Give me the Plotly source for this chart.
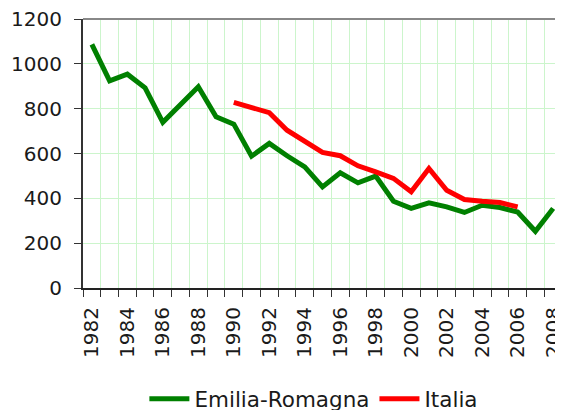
import plotly.graph_objects as go

years = list(range(1982, 2009))
emilia = [1087, 924, 954, 893, 739, 817, 898, 764, 731, 588, 645, 590, 540, 451,
          514, 469, 499, 387, 355, 380, 362, 337, 369, 359, 339, 253, 355]
italia_years = list(range(1990, 2007))
italia = [828, 806, 782, 704, 652, 605, 590, 545, 518, 489, 429, 533, 436, 395,
          387, 381, 362]
tick_years = list(range(1982, 2009, 2))
y_ticks = [0, 200, 400, 600, 800, 1000, 1200]

font_family = "DejaVu Sans, Verdana, sans-serif"

fig = go.Figure()
fig.add_trace(go.Scatter(x=years, y=emilia, mode="lines", name="Emilia-Romagna",
                         line=dict(color="#008000", width=5)))
fig.add_trace(go.Scatter(x=italia_years, y=italia, mode="lines", name="Italia",
                         line=dict(color="#ff0000", width=5)))

# page body has an 8px default margin: figure is sized/offset to compensate
fig.update_layout(
    width=555, height=402,
    margin=dict(l=75, r=1, t=11, b=122, autoexpand=False),
    plot_bgcolor="white", paper_bgcolor="white",
    font=dict(family=font_family, size=20, color="#1a1a1a"),
    showlegend=True,
    legend=dict(orientation="h", x=0.482, xanchor="center", y=-0.412, yanchor="middle",
                font=dict(size=21.5), itemwidth=40, tracegroupgap=0),
    xaxis=dict(
        range=[1981.5, 2008.5], automargin=False, ticklabeloverflow="allow",
        tickmode="array", tickvals=tick_years, ticktext=[str(y) for y in tick_years],
        tickangle=-90, ticks="", showgrid=False, zeroline=False,
        showline=True, linecolor="#222222", linewidth=2,
        ticklabelstandoff=9,
        minor=dict(tick0=1981.5, dtick=1, ticks="outside", ticklen=7, tickcolor="#333333",
                   showgrid=True, gridcolor="#ccf5cc", gridwidth=1),
        tickfont=dict(size=20),
    ),
    yaxis=dict(
        range=[0, 1200], tickvals=y_ticks, ticks="outside", ticklen=7, tickcolor="#333333",
        automargin=False, ticklabelstandoff=8, ticklabeloverflow="allow",
        showgrid=True, gridcolor="#ccf5cc", gridwidth=1, zeroline=False,
        showline=True, linecolor="#333333", linewidth=2,
        tickfont=dict(size=20),
    ),
)
fig.add_shape(type="line", xref="paper", yref="paper", x0=0, x1=1, y0=1, y1=1,
              line=dict(color="#888888", width=2))
fig.add_shape(type="line", xref="paper", yref="paper", x0=1, x1=1, y0=0, y1=1,
              line=dict(color="#888888", width=2))

fig.write_html("out.html")
